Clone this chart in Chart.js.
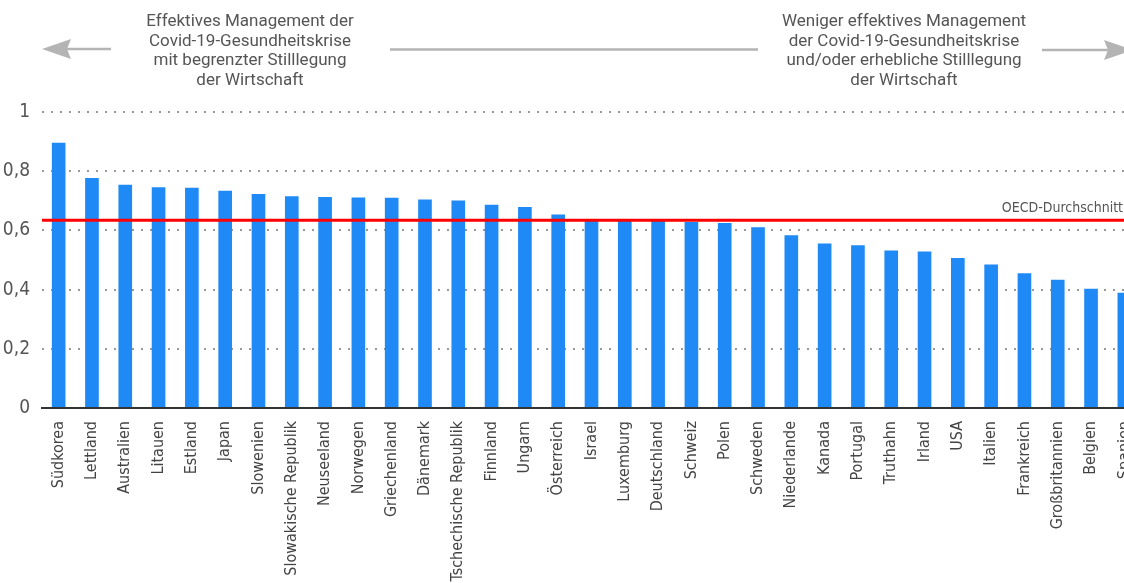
<!DOCTYPE html>
<html>
<head>
<meta charset="utf-8">
<script src="https://cdn.jsdelivr.net/npm/chart.js@4/dist/chart.umd.min.js"></script>
<style>
  html, body { margin: 0; padding: 0; background: #fff; overflow: hidden; }
  #wrap { width: 1150px; height: 583px; position: relative; }
</style>
</head>
<body>
<div id="wrap"><canvas id="scoreChart"></canvas></div>
<script>
const countries = ['Südkorea', 'Lettland', 'Australien', 'Litauen', 'Estland', 'Japan', 'Slowenien',
  'Slowakische Republik', 'Neuseeland', 'Norwegen', 'Griechenland', 'Dänemark', 'Tschechische Republik',
  'Finnland', 'Ungarn', 'Österreich', 'Israel', 'Luxemburg', 'Deutschland', 'Schweiz', 'Polen', 'Schweden',
  'Niederlande', 'Kanada', 'Portugal', 'Truthahn', 'Irland', 'USA', 'Italien', 'Frankreich',
  'Großbritannien', 'Belgien', 'Spanien'];
const scores = [0.896, 0.777, 0.754, 0.746, 0.744, 0.734, 0.723, 0.715, 0.713, 0.711, 0.710, 0.704, 0.701,
  0.687, 0.679, 0.654, 0.637, 0.637, 0.633, 0.628, 0.625, 0.611, 0.584, 0.556, 0.550, 0.532, 0.529,
  0.507, 0.485, 0.455, 0.433, 0.403, 0.389];
const oecdAverage = 0.634;
const yTicks = [0, 0.2, 0.4, 0.6, 0.8, 1];
const leftNote = ['Effektives Management der', 'Covid-19-Gesundheitskrise', 'mit begrenzter Stilllegung', 'der Wirtschaft'];
const rightNote = ['Weniger effektives Management', 'der Covid-19-Gesundheitskrise', 'und/oder erhebliche Stilllegung', 'der Wirtschaft'];

const narrow = '"Liberation Sans Narrow", "DejaVu Sans Condensed", sans-serif';

// header notes, arrows and the OECD average line
const decor = {
  id: 'decor',
  afterDatasetsDraw(chart) {
    const { ctx, chartArea, scales: { y } } = chart;
    const yAvg = y.getPixelForValue(oecdAverage);
    ctx.save();
    ctx.strokeStyle = '#ff0000';
    ctx.lineWidth = 3;
    ctx.beginPath();
    ctx.moveTo(chartArea.left, yAvg);
    ctx.lineTo(chartArea.right, yAvg);
    ctx.stroke();

    ctx.fillStyle = '#555';
    ctx.font = '14px ' + narrow;
    ctx.textAlign = 'right';
    ctx.textBaseline = 'bottom';
    ctx.fillText('OECD-Durchschnitt', 1123, yAvg - 5);

    ctx.font = '17px Roboto, sans-serif';
    ctx.textAlign = 'center';
    ctx.textBaseline = 'middle';
    leftNote.forEach((t, i) => ctx.fillText(t, 250, 22 + i * 19.5));
    rightNote.forEach((t, i) => ctx.fillText(t, 904, 22 + i * 19.5));

    ctx.strokeStyle = '#b4b4b4';
    ctx.fillStyle = '#b4b4b4';
    ctx.lineWidth = 2.5;
    ctx.beginPath();
    ctx.moveTo(66, 49); ctx.lineTo(111, 49);
    ctx.moveTo(390, 49.5); ctx.lineTo(758, 49.5);
    ctx.moveTo(1042, 50); ctx.lineTo(1108, 50);
    ctx.stroke();
    ctx.beginPath();
    ctx.moveTo(42, 49); ctx.lineTo(71, 39); ctx.lineTo(67, 49); ctx.lineTo(71, 59); ctx.closePath();
    ctx.fill();
    ctx.beginPath();
    ctx.moveTo(1133, 50); ctx.lineTo(1104, 40); ctx.lineTo(1108, 50); ctx.lineTo(1104, 60); ctx.closePath();
    ctx.fill();
    ctx.restore();
  }
};

new Chart(document.getElementById('scoreChart'), {
  type: 'bar',
  data: {
    labels: countries,
    datasets: [{
      data: scores,
      backgroundColor: '#1f8af6',
      categoryPercentage: 1,
      barPercentage: 0.41
    }]
  },
  options: {
    responsive: true,
    maintainAspectRatio: false,
    animation: false,
    layout: { padding: { top: 112, right: 9, left: 0, bottom: 0 } },
    plugins: { legend: { display: false }, tooltip: { enabled: false } },
    scales: {
      x: {
        afterFit: (axis) => { axis.height = 175; },
        grid: { display: false },
        border: { color: '#333', width: 2 },
        ticks: {
          autoSkip: false, maxRotation: 90, minRotation: 90, padding: 5,
          color: '#444', font: { family: narrow, size: 16 }
        }
      },
      y: {
        min: 0, max: 1,
        afterFit: (axis) => { axis.width = 42; },
        afterBuildTicks: (axis) => { axis.ticks = yTicks.map(v => ({ value: v })); },
        border: { display: false, dash: [2, 7] },
        grid: {
          drawTicks: false,
          color: (c) => c.tick && c.tick.value === 0 ? 'rgba(0,0,0,0)' : '#999',
          lineWidth: 2
        },
        ticks: {
          padding: 12, color: '#555', font: { family: narrow, size: 19 },
          callback: (v) => String(v).replace('.', ',')
        }
      }
    }
  },
  plugins: [decor]
});
</script>
</body>
</html>
